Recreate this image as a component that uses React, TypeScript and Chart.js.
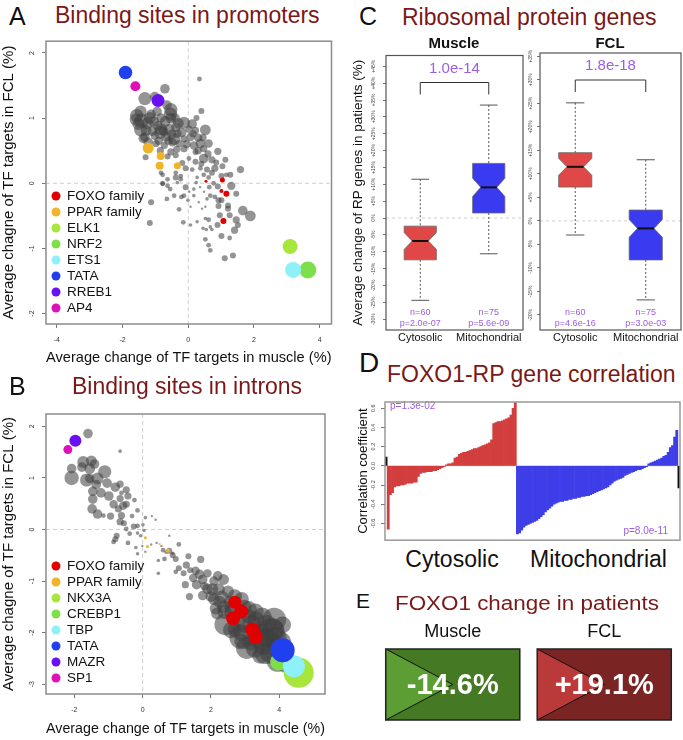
import React, { useEffect, useRef } from 'react';
import { Chart, registerables } from 'chart.js';

Chart.register(...registerables);

const FONT = '"Liberation Sans", Arial, Helvetica, sans-serif';
const TITLE_RED = '#7a1818';
const PURPLE = '#9b5de5';
const GRAY_PT = 'rgba(64,64,64,0.56)';
const GRAY_SIZE_SCALE = 1.2;

type Pt = [number, number, number];

// ---------- Panel A: binding sites in promoters (x, y, size) ----------
const promoterOther: Pt[] = [
  [0.34,1.60,2],[-0.71,1.45,4],[-1.32,1.30,5.5],[-1.02,1.33,4],[-1.57,1.04,5.5],[-1.42,0.96,6],[-1.13,1.06,4],[-1.17,1.00,5],
  [-0.53,1.13,5.5],[-0.54,1.06,5.5],[-0.53,1.00,4.5],[-0.83,1.00,4],[-0.13,0.93,5],[0.12,0.91,4],[0.25,1.00,2.5],[0.40,1.11,2.5],
  [0.52,0.82,4.5],[0.22,0.81,3],[0.02,0.83,3],[-0.83,0.83,5],[-0.58,0.83,4.5],[-0.93,0.88,4],[-0.38,0.86,4],[-1.32,0.71,4],
  [-1.02,0.73,3.5],[-0.68,0.71,4],[-0.43,0.68,5],[-0.33,0.76,3.5],[-0.13,0.68,3],[0.07,0.71,3.5],[0.15,0.76,3],[-0.98,0.61,3],
  [-0.73,0.58,3],[-0.48,0.63,3.5],[-0.28,0.61,3],[-0.13,0.53,3],[0.17,0.58,3.5],[0.37,0.61,4],[0.62,0.61,3.5],[0.47,0.53,3],
  [0.22,0.48,2.5],[0.90,0.49,3],[-0.53,0.48,3],[-0.38,0.43,2.5],[-0.63,0.41,2.5],[0.47,0.38,4],[0.02,0.38,2],[0.22,0.33,2.5],
  [0.72,0.36,3],[1.13,0.36,2.5],[-1.30,0.40,2.5],[-0.18,0.31,2.5],[-0.08,0.23,2.5],[0.12,0.21,2],[0.37,0.23,2],[0.57,0.21,2.5],
  [0.81,0.23,3],[1.04,0.26,2.5],[1.28,0.13,2.5],[1.59,0.21,3],[-0.83,0.16,2],[-0.38,0.16,2],[-0.23,0.11,2],[0.27,0.09,1.5],
  [0.47,0.13,2],[0.62,0.09,2],[1.01,0.11,2.5],[-0.63,0.06,2],[-0.84,0.78,5.5],[-1.37,0.69,4],[-1.22,0.63,4],[-1.52,0.91,5],
  [-1.28,0.81,4.5],[1.31,-0.04,3.5],[1.46,-0.16,2.5],[0.90,-0.05,2.5],[0.77,0.00,2],[0.64,-0.06,2],[0.72,0.16,2.5],[1.16,0.13,2],
  [-0.08,-0.06,2.5],[-0.23,0.06,2],[-0.38,0.09,2.5],[-0.55,-0.09,2],[-0.78,-0.01,2],[-0.78,0.13,2],[-0.63,-0.04,2],[-0.43,-0.19,2],
  [-0.65,-0.24,2],[-0.21,-0.21,2],[-0.13,-0.19,2],[-0.01,-0.26,1.5],[0.17,-0.19,1.5],[0.32,-0.29,1],[0.42,-0.39,1],[0.52,-0.36,1],
  [0.57,-0.24,1.5],[0.67,-0.19,2],[0.81,-0.21,2],[0.92,-0.26,2.5],[1.01,-0.26,2.5],[0.92,-0.35,2.5],[1.21,-0.34,2.5],[1.21,-0.39,2.5],
  [1.66,-0.42,4],[1.89,-0.50,4.5],[0.96,-0.49,2.5],[1.26,-0.49,2.5],[1.46,-0.56,3],[1.51,-0.64,2.5],[1.41,-0.72,3],[0.89,-0.64,2.5],
  [0.62,-0.56,2],[0.52,-0.54,1.5],[0.67,-0.67,1.5],[0.45,-0.69,1.5],[0.55,-0.71,1.5],[0.72,-0.71,1.5],[0.27,-0.59,1.5],[0.07,-0.64,1.5],
  [-0.15,-0.60,2],[-0.28,-0.40,2],[0.52,-0.86,2],[0.62,-0.95,2],[0.67,-1.03,2],[1.01,-0.81,2.5],[1.26,-0.84,2],[1.11,-1.15,2.5],
  [1.36,-1.11,2.5],[-1.17,-0.61,2.5],[-1.13,-0.29,2.5],[0.07,-0.36,1],[0.17,-0.09,1.5],[0.24,0.01,1.5],[0.36,-0.06,1],[0.48,-0.13,1],
  [0.03,-0.13,1],[-0.33,0.01,1.5],[-0.78,0.00,2],
  [-1.45,1.10,5],[-1.25,0.92,5],[-1.05,0.95,4.5],[-0.95,1.10,4],[-0.70,0.95,4.5],[-0.65,1.20,4],[-0.40,1.00,4],[-0.30,0.92,4.5],
  [-0.75,0.80,4],[-1.10,0.80,4],[-0.50,0.75,4],[-0.20,0.78,4],[0.30,0.70,3.5],[0.45,0.70,3],[-0.90,0.65,3.5],[-0.60,0.65,3.5],
  [-0.05,0.60,3.5],[0.30,0.50,3],[0.60,0.45,3],[-0.35,0.52,3],[-0.85,0.50,3],[0.85,0.32,2.5],[0.40,0.30,2.5],[-1.45,0.82,5.5],
  [-1.60,0.98,5]
];
const promoterFactorNames = ['FOXO family', 'PPAR family', 'ELK1', 'NRF2', 'ETS1', 'TATA', 'RREB1', 'AP4'];
const promoterFactorColors = ['#e00000', '#f0b428', '#a8e63c', '#7de04a', '#8ef0f8', '#2040f0', '#6a10f0', '#e010b8'];
const promoterFactorPoints: Pt[][] = [
  [[1.04,0.05,2.5],[1.01,-0.12,2],[1.16,-0.16,3],[1.07,-0.58,3],[0.54,0.03,1.5]],
  [[-1.22,0.54,5.5],[-0.84,0.42,4],[-0.87,0.27,4],[-0.33,0.27,3.5]],
  [[3.10,-0.97,7.5]],
  [[3.64,-1.33,8.5]],
  [[3.19,-1.33,8]],
  [[-1.91,1.70,6.8]],
  [[-0.92,1.27,6.5]],
  [[-1.61,1.49,5]]
];
const promoterXTicks = [-4, -2, 0, 2, 4];
const promoterYTicks = [-2, -1, 0, 1, 2];

// ---------- Panel B: binding sites in introns ----------
const intronOther: Pt[] = [
  [-1.60,1.86,4],[-0.66,1.52,1.5],[-1.74,1.31,5],[-1.50,1.33,4.5],[-2.08,1.18,4],[-1.78,1.21,4],[-1.55,1.18,4.5],[-1.41,1.27,4],
  [-2.08,1.00,6],[-1.64,0.96,5.5],[-1.11,1.12,5.5],[-1.32,0.99,5],[-1.55,0.99,4],[-1.04,0.90,4],[-1.36,0.87,4],[-0.80,0.82,4],
  [-0.66,0.88,3],[-1.46,0.74,4],[-1.22,0.71,4],[-0.99,0.65,4],[-0.48,0.77,3],[-0.43,0.65,3],[-0.62,0.71,2],[-0.66,0.60,3],
  [-1.46,0.59,4],[-0.85,0.49,3.5],[-0.57,0.46,3.5],[-0.71,0.40,3],[-0.48,0.49,3],[-0.24,0.57,2],[-1.48,0.40,4],[-1.32,0.30,4],
  [-0.94,0.26,3],[-1.15,0.27,2],[-0.62,0.27,3],[-0.66,0.15,3],[-0.55,0.12,2.5],[-0.31,0.26,2],[-0.15,0.37,2],[0.08,0.23,1.5],
  [0.27,0.26,1],[0.38,0.19,1],[-0.15,0.07,2],[-0.26,0.06,2.5],[0.01,0.09,1.5],[-0.48,0.01,2],[0.04,-0.02,1.5],[-0.15,-0.07,1.5],
  [-0.38,-0.08,2],[-0.06,-0.12,1.5],[-0.76,-0.12,2.5],[-0.80,-0.19,2.5],[-0.85,-0.24,2],[-0.43,-0.26,2],[-0.20,-0.35,1.5],[-0.01,-0.32,1],
  [0.25,-0.29,1],[0.41,-0.26,1],[0.78,-0.12,1],[1.06,-0.29,2],[0.55,-0.32,1],[0.60,-0.40,2],[0.69,-0.44,1.5],[0.88,-0.46,1.5],
  [-0.15,-0.47,1.5],[0.08,-0.43,1],[0.78,-0.41,2.5],[0.88,-0.50,2.5],[0.97,-0.57,2.5],[0.64,-0.57,2],[0.46,-0.60,1.5],[1.34,-0.52,2.5],
  [1.70,-0.58,3],[1.06,-0.75,2.5],[1.28,-0.69,3],[1.39,-0.79,2.5],[1.20,-0.85,2.5],[0.97,-0.82,2],[0.46,-0.85,1.5],[1.67,-0.87,4],
  [1.48,-0.94,3.5],[1.76,-0.97,4],[1.25,-1.07,3],[1.58,-1.07,4],[1.81,-1.10,3.5],[2.09,-1.00,4],[2.37,-0.97,4.5],[1.37,-1.30,3],
  [1.76,-1.28,4],[2.04,-1.16,5],[2.23,-1.16,5],[2.09,-1.35,5],[2.32,-1.31,5.5],[2.14,-1.53,5],[2.37,-1.50,5.5],[2.18,-1.63,5],
  [2.42,-1.84,9],[2.79,-1.75,6],[2.98,-1.50,6],[3.12,-1.69,6],[2.89,-2.00,7],[3.31,-1.75,7],[3.63,-1.84,8],[3.82,-1.94,9],
  [3.49,-2.00,7],[3.17,-2.19,7],[3.54,-2.25,8],[3.73,-2.12,8],[3.45,-2.44,7],[3.73,-2.41,8],[3.87,-2.28,8],[2.70,-1.94,6],
  [2.89,-2.16,6],[3.77,-1.97,11],[2.89,-2.09,10],[3.95,-2.55,9],[4.20,-2.60,8],[2.55,-1.40,5],[2.60,-1.60,6],[3.00,-1.85,7],
  [2.50,-1.20,5],[2.70,-1.30,6],[2.60,-1.50,6],[2.90,-1.35,6],[3.10,-1.55,7],[3.30,-1.60,7],[3.50,-1.70,8],[3.20,-1.85,8],
  [3.40,-2.10,9],[3.60,-2.10,8],[3.90,-2.10,9],[4.00,-2.20,10],[3.30,-2.30,8],[3.60,-2.40,9],[2.40,-1.60,6],[2.25,-1.40,5],
  [2.00,-1.30,4.5],[1.90,-1.15,4.5],[2.20,-0.90,4],[1.55,-0.80,3.5],[1.90,-0.85,3.5],[2.60,-1.95,7],[3.05,-2.30,9],[3.85,-1.75,10],
  [4.10,-1.85,7]
];
const intronFactorNames = ['FOXO family', 'PPAR family', 'NKX3A', 'CREBP1', 'TBP', 'TATA', 'MAZR', 'SP1'];
const intronFactorColors = ['#e00000', '#f0b428', '#a8e63c', '#7de04a', '#8ef0f8', '#2040f0', '#6a10f0', '#e010b8'];
const intronFactorPoints: Pt[][] = [
  [[2.70,-1.41,6.5],[2.89,-1.59,7],[2.65,-1.72,7],[3.21,-1.94,7],[3.31,-2.09,7]],
  [[0.08,-0.16,1.5],[0.14,-0.33,1.5],[0.50,-0.28,1],[0.74,-0.41,2]],
  [[4.57,-2.78,15]],
  [[4.00,-2.56,9]],
  [[4.43,-2.65,11]],
  [[4.10,-2.34,12]],
  [[-1.97,1.72,6]],
  [[-2.19,1.55,4.5]]
];
const intronXTicks = [-2, 0, 2, 4];
const intronYTicks = [-3, -2, -1, 0, 1, 2];

// ---------- Panel C: ribosomal protein genes (%) ----------
const rpGroups = ['Cytosolic', 'Mitochondrial'];
const rpCounts = [60, 75];
const muscleWhiskerLow = [-24.4, -10.6];
const muscleQ1 = [-12.4, 1.5];
const muscleMedian = [-6.8, 9.1];
const muscleQ3 = [-2.4, 16.2];
const muscleWhiskerHigh = [11.5, 33.5];
const muscleNotch = [2.5, 2.7];
const musclePValues = ['2.0e-07', '5.6e-09'];
const muscleTestP = '1.0e-14';
const muscleTicks = [-30, -25, -20, -15, -10, -5, 0, 5, 10, 15, 20, 25, 30, 35, 40, 45];
const fclWhiskerLow = [-3.0, -16.8];
const fclQ1 = [7.2, -8.3];
const fclMedian = [11.5, -1.6];
const fclQ3 = [14.5, 2.3];
const fclWhiskerHigh = [25.1, 13.0];
const fclNotch = [1.8, 1.9];
const fclPValues = ['4.6e-16', '3.0e-03'];
const fclTestP = '1.8e-18';
const fclTicks = [-20, -15, -10, -5, 0, 5, 10, 15, 20, 25, 30, 35];

// ---------- Panel D: FOXO1-RP gene correlation ----------
const cytosolicCorr = [
  -0.66,-0.30,-0.28,-0.22,-0.21,-0.21,-0.20,-0.20,-0.19,-0.18,
  -0.18,-0.18,-0.17,-0.17,-0.11,-0.08,-0.07,-0.07,-0.06,-0.06,
  -0.06,-0.05,-0.05,-0.04,-0.03,-0.02,-0.01,0.01,0.02,0.02,
  0.03,0.08,0.09,0.12,0.13,0.14,0.14,0.15,0.16,0.17,
  0.18,0.18,0.19,0.20,0.21,0.22,0.23,0.24,0.27,0.44,
  0.45,0.46,0.46,0.47,0.48,0.49,0.50,0.53,0.60,0.66
];
const mitochondrialCorr = [
  -0.71,-0.70,-0.67,-0.64,-0.62,-0.61,-0.60,-0.59,-0.58,-0.57,
  -0.55,-0.53,-0.51,-0.48,-0.46,-0.44,-0.42,-0.40,-0.39,-0.38,
  -0.37,-0.37,-0.36,-0.36,-0.35,-0.35,-0.34,-0.34,-0.33,-0.33,
  -0.32,-0.32,-0.31,-0.31,-0.30,-0.29,-0.28,-0.27,-0.26,-0.25,
  -0.24,-0.23,-0.22,-0.20,-0.18,-0.16,-0.15,-0.14,-0.13,-0.12,
  -0.10,-0.09,-0.08,-0.07,-0.06,-0.05,-0.04,-0.04,-0.03,-0.02,
  -0.01,0.02,0.03,0.04,0.05,0.06,0.07,0.08,0.10,0.11,
  0.14,0.19,0.21,0.30,0.37
];
const cytosolicEdgeCorr = 0.09;
const mitochondrialEdgeCorr = -0.23;
const cytosolicCorrP = '1.3e-02';
const mitochondrialCorrP = '8.0e-11';
const corrTicks = [-0.6, -0.4, -0.2, 0, 0.2, 0.4, 0.6];

// ---------- Panel E: FOXO1 change in patients ----------
const foxoTissues = ['Muscle', 'FCL'];
const foxoChange = [-14.6, 19.1];

// ---------- helpers ----------
const framePlugin = (color: string, width: number) => ({
  id: 'frame',
  afterDraw(chart: any) {
    const { ctx, chartArea: a } = chart;
    ctx.save();
    ctx.strokeStyle = color;
    ctx.lineWidth = width;
    ctx.strokeRect(a.left, a.top, a.right - a.left, a.bottom - a.top);
    ctx.restore();
  }
});

const zeroCrossPlugin = {
  id: 'zeroCross',
  beforeDatasetsDraw(chart: any) {
    const { ctx, chartArea: a, scales } = chart;
    const x0 = scales.x.getPixelForValue(0);
    const y0 = scales.y.getPixelForValue(0);
    ctx.save();
    ctx.strokeStyle = '#cfcfcf';
    ctx.lineWidth = 1;
    ctx.setLineDash([4, 3]);
    ctx.beginPath();
    ctx.moveTo(x0, a.top); ctx.lineTo(x0, a.bottom);
    ctx.moveTo(a.left, y0); ctx.lineTo(a.right, y0);
    ctx.stroke();
    ctx.restore();
  }
};

const insetLegendPlugin = {
  id: 'insetLegend',
  afterDatasetsDraw(chart: any) {
    const { ctx, chartArea: a } = chart;
    const sets = chart.data.datasets.filter((d: any) => d.label !== 'other');
    ctx.save();
    ctx.font = `13.5px ${FONT}`;
    ctx.textBaseline = 'middle';
    sets.forEach((d: any, i: number) => {
      const y = a.bottom - 16 - (sets.length - 1 - i) * 16;
      ctx.fillStyle = d.backgroundColor;
      ctx.beginPath();
      ctx.arc(a.left + 10, y, 4.5, 0, Math.PI * 2);
      ctx.fill();
      ctx.fillStyle = '#111';
      ctx.fillText(d.label, a.left + 21, y + 0.5);
    });
    ctx.restore();
  }
};

function scatterConfig(other: Pt[], names: string[], colors: string[], pts: Pt[][],
  xr: [number, number], yr: [number, number], xTicks: number[], yTicks: number[], titlePad: number): any {
  const factorSets = names.map((n, i) => ({
    label: n,
    data: pts[i].map(([x, y, r]) => ({ x, y, r })),
    backgroundColor: colors[i],
    borderWidth: 0,
    order: names.length - i
  }));
  return {
    type: 'bubble',
    data: {
      datasets: [
        ...factorSets,
        { label: 'other', data: other.map(([x, y, r]) => ({ x, y, r: r * GRAY_SIZE_SCALE })), backgroundColor: GRAY_PT, borderWidth: 0, order: 100 }
      ]
    },
    options: {
      animation: false, responsive: false, devicePixelRatio: 1, events: [],
      layout: { padding: { top: 4, right: 3, left: 0, bottom: 0 } },
      plugins: { legend: { display: false }, tooltip: { enabled: false } },
      scales: {
        x: {
          type: 'linear', min: xr[0], max: xr[1],
          afterBuildTicks: (s: any) => { s.ticks = xTicks.map(v => ({ value: v })); },
          afterFit: (s: any) => { s.height = 46; },
          grid: { drawOnChartArea: false, drawTicks: true, tickLength: 4, color: '#777' },
          border: { display: false },
          ticks: { font: { size: 7, family: FONT }, color: '#333', padding: 8 },
          title: { display: true, text: 'Average change of TF targets in muscle (%)', font: { size: 15, family: FONT }, color: '#111', padding: { bottom: titlePad, top: 0 } }
        },
        y: {
          type: 'linear', min: yr[0], max: yr[1],
          afterBuildTicks: (s: any) => { s.ticks = yTicks.map(v => ({ value: v })); },
          afterFit: (s: any) => { s.width = 46; },
          grid: { drawOnChartArea: false, drawTicks: true, tickLength: 4, color: '#777' },
          border: { display: false },
          ticks: { font: { size: 7, family: FONT }, color: '#333', padding: 7, minRotation: 90, maxRotation: 90, crossAlign: 'center', autoSkip: false },
          title: { display: true, text: 'Average chagne of TF targets in FCL (%)', font: { size: 15, family: FONT }, color: '#111', padding: { top: 0, bottom: 0 } }
        }
      }
    },
    plugins: [zeroCrossPlugin, insetLegendPlugin, framePlugin('#8c8c8c', 1.5)]
  };
}

const BOX_FILL = ['rgb(224,72,72)', 'rgb(58,58,240)'];

function boxPlugin(lo: number[], q1: number[], med: number[], q3: number[], hi: number[], notch: number[], pvals: string[], test: string) {
  return {
    id: 'notchedBoxes',
    beforeDatasetsDraw(chart: any) {
      const { ctx, chartArea: a, scales } = chart;
      const y0 = scales.y.getPixelForValue(0);
      ctx.save();
      ctx.strokeStyle = '#d0d0d0';
      ctx.setLineDash([3, 3]);
      ctx.lineWidth = 1;
      ctx.beginPath(); ctx.moveTo(a.left, y0); ctx.lineTo(a.right, y0); ctx.stroke();
      ctx.restore();
    },
    afterDatasetsDraw(chart: any) {
      const { ctx, chartArea: a, scales } = chart;
      const xs = scales.x, ys = scales.y;
      const step = xs.getPixelForValue(1) - xs.getPixelForValue(0);
      const hw = step * 0.235, nw = hw * 0.5, cap = hw * 0.55;
      ctx.save();
      rpGroups.forEach((_, i) => {
        const cx = xs.getPixelForValue(i);
        const pLo = ys.getPixelForValue(lo[i]), pHi = ys.getPixelForValue(hi[i]);
        const p1 = ys.getPixelForValue(q1[i]), p3 = ys.getPixelForValue(q3[i]);
        const pm = ys.getPixelForValue(med[i]);
        const nU = ys.getPixelForValue(med[i] + notch[i]), nD = ys.getPixelForValue(med[i] - notch[i]);
        ctx.strokeStyle = '#555';
        ctx.lineWidth = 1;
        ctx.setLineDash([2, 2]);
        ctx.beginPath();
        ctx.moveTo(cx, pHi); ctx.lineTo(cx, p3);
        ctx.moveTo(cx, p1); ctx.lineTo(cx, pLo);
        ctx.stroke();
        ctx.setLineDash([]);
        ctx.beginPath();
        ctx.moveTo(cx - cap, pHi); ctx.lineTo(cx + cap, pHi);
        ctx.moveTo(cx - cap, pLo); ctx.lineTo(cx + cap, pLo);
        ctx.stroke();
        ctx.beginPath();
        ctx.moveTo(cx - hw, p3); ctx.lineTo(cx + hw, p3); ctx.lineTo(cx + hw, nU);
        ctx.lineTo(cx + nw, pm); ctx.lineTo(cx + hw, nD); ctx.lineTo(cx + hw, p1);
        ctx.lineTo(cx - hw, p1); ctx.lineTo(cx - hw, nD); ctx.lineTo(cx - nw, pm);
        ctx.lineTo(cx - hw, nU); ctx.closePath();
        ctx.fillStyle = BOX_FILL[i];
        ctx.fill();
        ctx.strokeStyle = '#666';
        ctx.lineWidth = 0.8;
        ctx.stroke();
        ctx.strokeStyle = '#111';
        ctx.lineWidth = 2;
        ctx.beginPath(); ctx.moveTo(cx - nw, pm); ctx.lineTo(cx + nw, pm); ctx.stroke();
        ctx.fillStyle = PURPLE;
        ctx.font = `9px ${FONT}`;
        ctx.textAlign = 'center';
        ctx.textBaseline = 'middle';
        ctx.fillText('n=' + rpCounts[i], cx, a.bottom - 17);
        ctx.fillText('p=' + pvals[i], cx, a.bottom - 6);
      });
      const xa = xs.getPixelForValue(0), xb = xs.getPixelForValue(1);
      ctx.strokeStyle = '#333';
      ctx.lineWidth = 1;
      ctx.beginPath();
      ctx.moveTo(xa, a.top + 39); ctx.lineTo(xa, a.top + 27); ctx.lineTo(xb, a.top + 27); ctx.lineTo(xb, a.top + 39);
      ctx.stroke();
      ctx.fillStyle = PURPLE;
      ctx.font = `15px ${FONT}`;
      ctx.textAlign = 'center';
      ctx.textBaseline = 'middle';
      ctx.fillText(test, (xa + xb) / 2, a.top + 13);
      ctx.restore();
    }
  };
}

function boxConfig(lo: number[], q1: number[], med: number[], q3: number[], hi: number[], notch: number[], pvals: string[], test: string,
  yr: [number, number], yTicks: number[], yWidth: number, tickPad: number, withTitle: boolean): any {
  return {
    type: 'bar',
    data: {
      labels: rpGroups,
      datasets: [{ data: rpGroups.map((_, i) => [q1[i], q3[i]]), backgroundColor: 'rgba(0,0,0,0)', borderWidth: 0 }]
    },
    options: {
      animation: false, responsive: false, devicePixelRatio: 1, events: [],
      layout: { padding: { top: 3, right: 2, left: 0, bottom: 0 } },
      plugins: { legend: { display: false }, tooltip: { enabled: false } },
      scales: {
        x: {
          type: 'category',
          afterFit: (s: any) => { s.height = 16; },
          grid: { display: false, drawTicks: false },
          border: { display: false },
          ticks: { font: { size: 11, family: FONT }, color: '#111', padding: 1, maxRotation: 0 }
        },
        y: {
          type: 'linear', min: yr[0], max: yr[1],
          afterBuildTicks: (s: any) => { s.ticks = yTicks.map(v => ({ value: v })); },
          afterFit: (s: any) => { s.width = yWidth; },
          grid: { drawOnChartArea: false, drawTicks: true, tickLength: 3, color: '#777' },
          border: { display: false },
          ticks: {
            font: { size: 5, family: FONT }, color: '#444', padding: tickPad, minRotation: 90, maxRotation: 90, crossAlign: 'center', autoSkip: false,
            callback: (v: any) => (v > 0 ? '+' : '') + v + '%'
          },
          title: { display: withTitle, text: 'Average change of RP genes in patients (%)', font: { size: 13.5, family: FONT }, color: '#111', padding: { top: 10.4, bottom: 0 } }
        }
      }
    },
    plugins: [boxPlugin(lo, q1, med, q3, hi, notch, pvals, test), framePlugin('#555', 1.2)]
  };
}

function corrConfig(): any {
  const values = [cytosolicEdgeCorr, ...cytosolicCorr, ...mitochondrialCorr, mitochondrialEdgeCorr];
  const colors = values.map((_, i) => {
    if (i === 0 || i === values.length - 1) return '#111';
    return i <= cytosolicCorr.length ? 'rgb(210,62,62)' : 'rgb(62,62,232)';
  });
  return {
    type: 'bar',
    data: {
      labels: values.map(() => ''),
      datasets: [{ data: values, backgroundColor: colors, borderWidth: 0, barPercentage: 1, categoryPercentage: 1 }]
    },
    options: {
      animation: false, responsive: false, devicePixelRatio: 1, events: [],
      layout: { padding: { top: 6, right: 3, left: 0, bottom: 5 } },
      plugins: { legend: { display: false }, tooltip: { enabled: false } },
      scales: {
        x: { type: 'category', display: false },
        y: {
          type: 'linear', min: -0.775, max: 0.665,
          afterBuildTicks: (s: any) => { s.ticks = corrTicks.map(v => ({ value: v })); },
          afterFit: (s: any) => { s.width = 45; },
          grid: { drawOnChartArea: false, drawTicks: true, tickLength: 4, color: '#777' },
          border: { display: false },
          ticks: {
            font: { size: 5.5, family: FONT }, color: '#444', padding: 2.5, minRotation: 90, maxRotation: 90, crossAlign: 'center', autoSkip: false,
            callback: (v: any) => Number(v).toFixed(1)
          },
          title: { display: true, text: 'Correlation coefficient', font: { size: 13, family: FONT }, color: '#111', padding: { top: 16, bottom: 0 } }
        }
      }
    },
    plugins: [
      {
        id: 'corrExtras',
        beforeDatasetsDraw(chart: any) {
          const { ctx, chartArea: a, scales } = chart;
          const y0 = scales.y.getPixelForValue(0);
          ctx.save();
          ctx.strokeStyle = '#c8c8c8';
          ctx.lineWidth = 1;
          ctx.beginPath(); ctx.moveTo(a.left, y0); ctx.lineTo(a.right, y0); ctx.stroke();
          ctx.restore();
        },
        afterDatasetsDraw(chart: any) {
          const { ctx, chartArea: a } = chart;
          ctx.save();
          ctx.fillStyle = PURPLE;
          ctx.font = `10px ${FONT}`;
          ctx.textBaseline = 'middle';
          ctx.textAlign = 'left';
          ctx.fillText('p=' + cytosolicCorrP, a.left + 5, a.top + 4);
          ctx.textAlign = 'right';
          ctx.fillText('p=' + mitochondrialCorrP, a.right - 12, a.bottom - 9);
          ctx.restore();
        }
      },
      framePlugin('#999', 1.5)
    ]
  };
}

const TILE_BASE = ['rgb(70,121,35)', 'rgb(122,36,36)'];
const TILE_TRI = ['rgb(92,158,52)', 'rgb(186,58,58)'];

function tileConfig(): any {
  return {
    type: 'bar',
    data: {
      labels: foxoTissues,
      datasets: [{
        data: foxoTissues.map(() => [0, 1]),
        backgroundColor: TILE_BASE, borderWidth: 0,
        barPercentage: 0.885, categoryPercentage: 1
      }]
    },
    options: {
      animation: false, responsive: false, devicePixelRatio: 1, events: [],
      layout: { padding: { top: 0, right: 3, left: 7, bottom: 4 } },
      plugins: { legend: { display: false }, tooltip: { enabled: false } },
      scales: {
        x: {
          type: 'category', position: 'top',
          afterFit: (s: any) => { s.height = 37; },
          grid: { display: false, drawTicks: false },
          border: { display: false },
          ticks: { font: { size: 18, family: FONT }, color: '#111', padding: 6 }
        },
        y: { type: 'linear', min: 0, max: 1, display: false }
      }
    },
    plugins: [{
      id: 'tiles',
      afterDatasetsDraw(chart: any) {
        const { ctx } = chart;
        const meta = chart.getDatasetMeta(0);
        ctx.save();
        meta.data.forEach((el: any, i: number) => {
          const left = el.x - el.width / 2, right = el.x + el.width / 2;
          const top = Math.min(el.y, el.base), bottom = Math.max(el.y, el.base);
          const midY = (top + bottom) / 2;
          ctx.beginPath();
          ctx.moveTo(left, top); ctx.lineTo(el.x, midY); ctx.lineTo(left, bottom); ctx.closePath();
          ctx.fillStyle = TILE_TRI[i];
          ctx.fill();
          ctx.strokeStyle = '#111';
          ctx.lineWidth = 1;
          ctx.beginPath();
          ctx.moveTo(left, top); ctx.lineTo(el.x, midY); ctx.lineTo(left, bottom);
          ctx.stroke();
          ctx.lineWidth = 1.5;
          ctx.strokeStyle = '#222';
          ctx.strokeRect(left, top, right - left, bottom - top);
          const v = foxoChange[i];
          ctx.fillStyle = '#fff';
          ctx.font = `bold 29px ${FONT}`;
          ctx.textAlign = 'center';
          ctx.textBaseline = 'middle';
          ctx.fillText((v > 0 ? '+' : '') + v.toFixed(1) + '%', el.x, midY + 1);
        });
        ctx.restore();
      }
    }]
  };
}

function Txt(props: { x: number; baseline: number; size: number; text: string; color?: string; bold?: boolean; center?: boolean; scaleX?: number }) {
  const { x, baseline, size, text, color = '#111', bold = false, center = false, scaleX = 1 } = props;
  const style: any = {
    position: 'absolute', left: x, top: baseline - 0.8465 * size, fontSize: size, lineHeight: 1,
    whiteSpace: 'nowrap', color, fontWeight: bold ? 'bold' : 'normal', fontFamily: FONT
  };
  if (center) style.transform = 'translateX(-50%)';
  else if (scaleX !== 1) { style.transform = `scaleX(${scaleX})`; style.transformOrigin = 'left center'; }
  return <div style={style}>{text}</div>;
}

export default function App() {
  const aRef = useRef<HTMLCanvasElement>(null);
  const bRef = useRef<HTMLCanvasElement>(null);
  const cmRef = useRef<HTMLCanvasElement>(null);
  const cfRef = useRef<HTMLCanvasElement>(null);
  const dRef = useRef<HTMLCanvasElement>(null);
  const eRef = useRef<HTMLCanvasElement>(null);

  useEffect(() => {
    const charts: Chart[] = [];
    charts.push(new Chart(aRef.current!, scatterConfig(promoterOther, promoterFactorNames, promoterFactorColors, promoterFactorPoints,
      [-4.33, 4.36], [-2.16, 2.18], promoterXTicks, promoterYTicks, 3)));
    charts.push(new Chart(bRef.current!, scatterConfig(intronOther, intronFactorNames, intronFactorColors, intronFactorPoints,
      [-2.83, 5.34], [-3.19, 2.24], intronXTicks, intronYTicks, 2)));
    charts.push(new Chart(cmRef.current!, boxConfig(muscleWhiskerLow, muscleQ1, muscleMedian, muscleQ3, muscleWhiskerHigh, muscleNotch,
      musclePValues, muscleTestP, [-33.2, 48.2], muscleTicks, 46, 2.5, true)));
    charts.push(new Chart(cfRef.current!, boxConfig(fclWhiskerLow, fclQ1, fclMedian, fclQ3, fclWhiskerHigh, fclNotch,
      fclPValues, fclTestP, [-23.2, 35.7], fclTicks, 15, 0, false)));
    charts.push(new Chart(dRef.current!, corrConfig()));
    charts.push(new Chart(eRef.current!, tileConfig()));
    return () => charts.forEach(c => c.destroy());
  }, []);

  const cv = (left: number, top: number, w: number, h: number): any => ({ position: 'absolute', left, top, width: w, height: h });

  return (
    <div style={{ position: 'absolute', left: 0, top: 0, width: 683, height: 740, background: '#fff', overflow: 'hidden', fontFamily: FONT }}>
      <canvas ref={aRef} width={340} height={340} style={cv(0, 30, 340, 340)} />
      <canvas ref={bRef} width={340} height={341} style={cv(0, 399, 340, 341)} />
      <canvas ref={cmRef} width={185} height={296} style={cv(340, 50, 185, 296)} />
      <canvas ref={cfRef} width={158} height={296} style={cv(525, 50, 158, 296)} />
      <canvas ref={dRef} width={343} height={150} style={cv(340, 396, 343, 150)} />
      <canvas ref={eRef} width={313} height={112} style={cv(370, 612, 313, 112)} />

      <Txt x={9} baseline={25} size={25} text="A" />
      <Txt x={55} baseline={23.5} size={23} text="Binding sites in promoters" color={TITLE_RED} />
      <Txt x={9} baseline={395} size={25} text="B" />
      <Txt x={72} baseline={394} size={23} text="Binding sites in introns" color={TITLE_RED} />
      <Txt x={359} baseline={25} size={25} text="C" />
      <Txt x={402} baseline={25} size={23} text="Ribosomal protein genes" color={TITLE_RED} />
      <Txt x={454} baseline={48} size={15} text="Muscle" bold center />
      <Txt x={610} baseline={48} size={15} text="FCL" bold center />
      <Txt x={359} baseline={373} size={28} text="D" />
      <Txt x={387} baseline={382} size={23} text="FOXO1-RP gene correlation" color={TITLE_RED} />
      <Txt x={452} baseline={567} size={23} text="Cytosolic" center />
      <Txt x={598.5} baseline={567} size={23} text="Mitochondrial" center />
      <Txt x={356} baseline={608} size={21} text="E" />
      <Txt x={395} baseline={610} size={20} text="FOXO1 change in patients" color={TITLE_RED} scaleX={1.12} />
    </div>
  );
}
